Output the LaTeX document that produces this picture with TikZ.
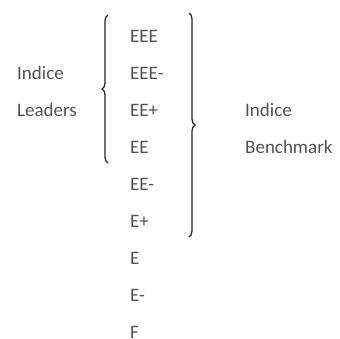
\documentclass[tikz,border=0pt]{standalone}
\usepackage{fontspec}
\setmainfont{Carlito}
\usetikzlibrary{decorations.pathreplacing}
\tikzset{
	rating/.style={anchor=base west,inner sep=0pt,text=black!68,font=\fontsize{19}{22}\selectfont},
	bracket/.style={decorate,decoration={brace,amplitude=6pt},line width=1.3pt,black!85}
}
\begin{document}
\begin{tikzpicture}[x=1pt,y=-1pt]
\useasboundingbox (0,0) rectangle (340,338);
% ratings column
\foreach \r [count=\i] in {EEE,EEE-,EE+,EE,EE-,E+,E,E-,F}
	\node[rating] (r\i) at (130,{42+37*(\i-1)}) {\r};
% group labels
\node[rating] (lead1) at (17,79) {Indice};
\node[rating] (lead2) at (17,116) {Leaders};
\node[rating] (bench1) at (245,116) {Indice};
\node[rating] (bench2) at (245,153) {Benchmark};
% brace ends
\coordinate (lb) at (108,163);
\coordinate (lt) at (108,15);
\coordinate (rt) at (189,13);
\coordinate (rb) at (189,237);
\draw[bracket] (lb) -- (lt);
\draw[bracket] (rt) -- (rb);
\end{tikzpicture}
\end{document}
